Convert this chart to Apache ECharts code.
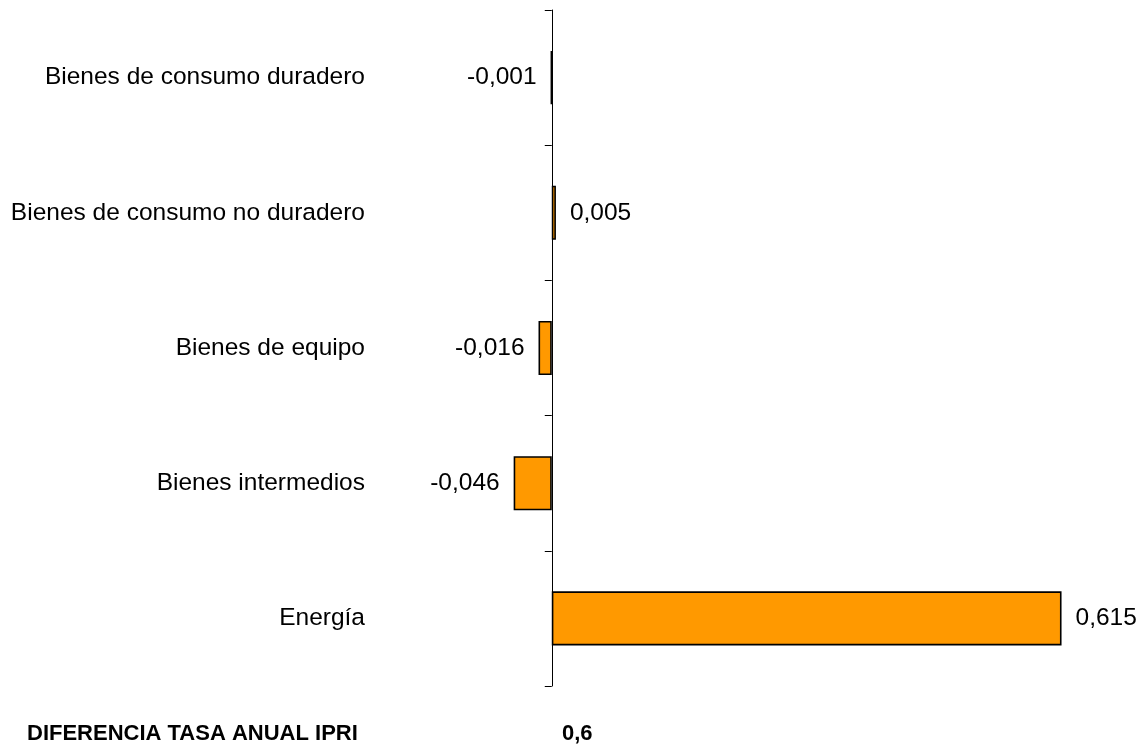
<!DOCTYPE html>
<html>
<head>
<meta charset="utf-8">
<script src="https://cdn.jsdelivr.net/npm/echarts@6/dist/echarts.min.js"></script>
<style>
html,body{margin:0;padding:0;background:#fff;}
#chart{width:1144px;height:746px;}
</style>
</head>
<body>
<div id="chart"></div>
<script>
// Data (top to bottom)
var categories = ['Bienes de consumo duradero', 'Bienes de consumo no duradero', 'Bienes de equipo', 'Bienes intermedios', 'Energía'];
var values = [-0.001, 0.005, -0.016, -0.046, 0.615];
var totalLabel = 'DIFERENCIA TASA ANUAL IPRI';
var totalValue = 0.6;

var FONT = '"Liberation Sans", Arial, sans-serif';
function fmt(v, d) { return v.toFixed(d).replace('.', ','); }

var chart = echarts.init(document.getElementById('chart'));
var seriesData = values.map(function (v) {
  return {
    value: v,
    label: { position: v < 0 ? 'left' : 'right' }
  };
});

chart.setOption({
  animation: false,
  backgroundColor: '#ffffff',
  grid: { left: 386, right: 12, top: 10, bottom: 60, containLabel: false, outerBoundsMode: 'none' },
  xAxis: {
    type: 'value',
    min: -0.2,
    max: 0.7,
    show: false,
    splitLine: { show: false }
  },
  yAxis: {
    type: 'category',
    inverse: true,
    data: categories,
    axisLine: { show: true, onZero: true, lineStyle: { color: '#000', width: 1 } },
    axisTick: { show: true, inside: false, length: 7, alignWithLabel: false, lineStyle: { color: '#000' } },
    axisLabel: { margin: 21, color: '#000', fontSize: 24.5, fontFamily: FONT }
  },
  series: [{
    type: 'bar',
    data: seriesData,
    barWidth: '40%',
    itemStyle: { color: '#FF9900', borderColor: '#000', borderWidth: 1.6 },
    label: {
      show: true,
      distance: 14,
      color: '#000',
      fontSize: 24.5,
      fontFamily: FONT,
      formatter: function (p) { return fmt(p.value, 3); }
    }
  }],
  graphic: [
    {
      type: 'text', left: 27, top: 723,
      style: { text: totalLabel, fill: '#000', font: 'bold 22px ' + FONT }
    },
    {
      type: 'text', left: 562, top: 723,
      style: { text: fmt(totalValue, 1), fill: '#000', font: 'bold 22px ' + FONT }
    }
  ]
});
</script>
</body>
</html>
